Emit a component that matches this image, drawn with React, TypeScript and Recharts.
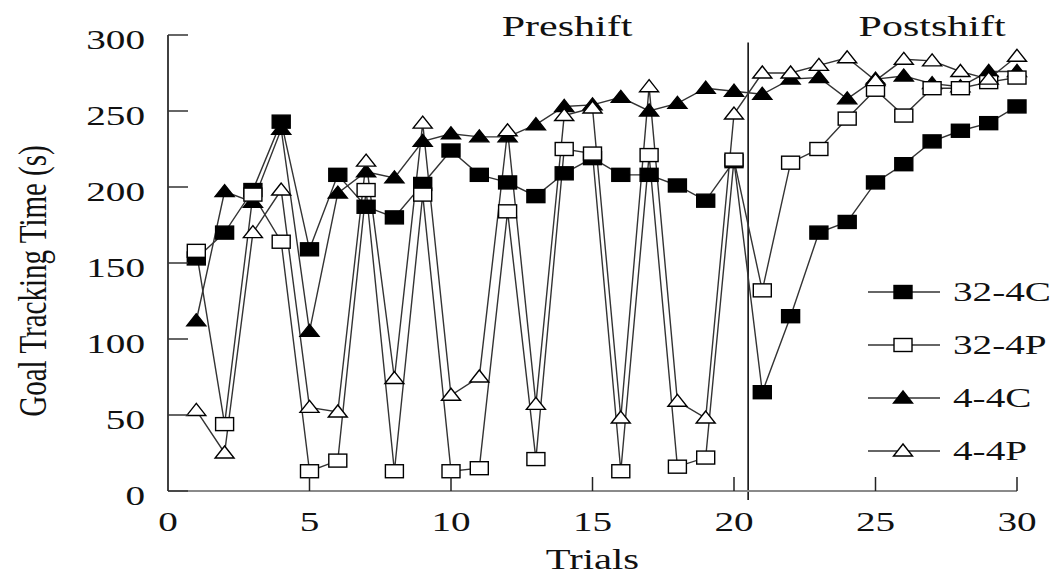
import React from "react";
import {
  LineChart,
  Line,
  XAxis,
  YAxis,
  Legend,
  Label,
  ReferenceLine,
  ReferenceDot,
} from "recharts";

// trial numbers and mean goal tracking time (s) per group
const trials = [
  1, 2, 3, 4, 5, 6, 7, 8, 9, 10, 11, 12, 13, 14, 15, 16, 17, 18, 19, 20, 21,
  22, 23, 24, 25, 26, 27, 28, 29, 30,
];
const g32_4C = [
  153, 170, 198, 243, 159, 208, 187, 180, 202, 224, 208, 203, 194, 209, 219,
  208, 208, 201, 191, 217, 65, 115, 170, 177, 203, 215, 230, 237, 242, 253,
];
const g32_4P = [
  158, 44, 195, 164, 13, 20, 198, 13, 195, 13, 15, 184, 21, 225, 222, 13, 221,
  16, 22, 218, 132, 216, 225, 245, 264, 247, 265, 265, 269, 272,
];
const g4_4C = [
  112, 197, 190, 238, 105, 196, 210, 206, 230, 235, 233, 233, 241, 253, 254,
  259, 250, 255, 265, 263, 261, 271, 272, 258, 271, 273, 268, 266, 276, 276,
];
const g4_4P = [
  53, 25, 170, 198, 55, 52, 217, 74, 242, 63, 75, 237, 57, 247, 252, 48, 266,
  59, 48, 248, 275, 275, 280, 285, 270, 284, 283, 276, 271, 286,
];

const xTicks = [0, 5, 10, 15, 20, 25, 30];
const yTicks = [0, 50, 100, 150, 200, 250, 300];

// shift happens between trial 20 and 21
const shiftAt = 20.5;
const phaseTitles = [
  { text: "Preshift", trial: 14.1 },
  { text: "Postshift", trial: 27 },
];

type Marker = "square" | "triangle";
type SeriesDef = { key: string; name: string; marker: Marker; filled: boolean };

const series: SeriesDef[] = [
  { key: "g32_4C", name: "32-4C", marker: "square", filled: true },
  { key: "g32_4P", name: "32-4P", marker: "square", filled: false },
  { key: "g4_4C", name: "4-4C", marker: "triangle", filled: true },
  { key: "g4_4P", name: "4-4P", marker: "triangle", filled: false },
];
// open markers are painted last so they sit on top
const drawOrder = ["g32_4C", "g4_4C", "g32_4P", "g4_4P"];

const data = trials.map((t, i) => ({
  trial: t,
  g32_4C: g32_4C[i],
  g32_4P: g32_4P[i],
  g4_4C: g4_4C[i],
  g4_4P: g4_4P[i],
}));

const FONT = '"Liberation Serif", "Times New Roman", serif';
const SX = 1.4; // the figure's lettering is wide, so text is stretched sideways
const INK = "#000";
const LINE = "#333";

function markerShape(marker: Marker, filled: boolean, cx: number, cy: number, key?: React.Key) {
  const fill = filled ? INK : "#fff";
  if (marker === "square") {
    return (
      <rect key={key} x={cx - 9} y={cy - 6.5} width={18} height={13} fill={fill} stroke={INK} strokeWidth={1.4} />
    );
  }
  const pts = `${cx},${cy - 7} ${cx - 9.5},${cy + 5} ${cx + 9.5},${cy + 5}`;
  return <polygon key={key} points={pts} fill={fill} stroke={INK} strokeWidth={1.4} strokeLinejoin="miter" />;
}

const makeDot = (s: SeriesDef) => (props: any) => {
  const { cx, cy, index } = props;
  if (cx == null || cy == null) return <g key={index} />;
  return markerShape(s.marker, s.filled, cx, cy, index);
};

const XTick = (props: any) => {
  const { x, y, payload } = props;
  return (
    <g>
      {payload.value !== 0 && <line x1={x} y1={y} x2={x} y2={y - 14} stroke="#222" strokeWidth={1.5} />}
      <text
        transform={`translate(${x},${y + 31}) scale(${SX},1)`}
        textAnchor="middle"
        dominantBaseline="central"
        fontFamily={FONT}
        fontSize={28}
        fill="#111"
      >
        {payload.value}
      </text>
    </g>
  );
};

const YTick = (props: any) => {
  const { x, y, payload } = props;
  return (
    <g>
      <line x1={x} y1={y} x2={x + 20} y2={y} stroke="#333" strokeWidth={1.5} />
      <text
        transform={`translate(${x - 23},${y + 5}) scale(${SX},1)`}
        textAnchor="end"
        dominantBaseline="central"
        fontFamily={FONT}
        fontSize={28}
        fill="#111"
      >
        {payload.value}
      </text>
    </g>
  );
};

const TrialsLabel = (props: any) => {
  const vb = props.viewBox || { x: 168, y: 491, width: 849, height: 85 };
  return (
    <text
      transform={`translate(${vb.x + vb.width / 2},${vb.y + 69}) scale(${SX},1)`}
      textAnchor="middle"
      dominantBaseline="central"
      fontFamily={FONT}
      fontSize={29}
      fill="#111"
    >
      Trials
    </text>
  );
};

const TimeLabel = (props: any) => {
  const vb = props.viewBox || { x: 0, y: 35, width: 168, height: 456 };
  return (
    <text
      transform={`translate(${vb.x + 33},${vb.y + vb.height / 2 + 18}) scale(${SX},1) rotate(-90)`}
      textAnchor="middle"
      dominantBaseline="central"
      fontFamily={FONT}
      fontSize={29}
      fill="#111"
    >
      Goal Tracking Time (s)
    </text>
  );
};

const titleShape = (text: string) => (props: any) => (
  <text
    transform={`translate(${props.cx},${props.cy + 1}) scale(${SX},1)`}
    textAnchor="middle"
    fontFamily={FONT}
    fontSize={30}
    fill="#111"
  >
    {text}
  </text>
);

const LegendBox = (props: any) => {
  const items = [...(props.payload || [])].sort(
    (a: any, b: any) =>
      series.findIndex((s) => s.key === a.dataKey) - series.findIndex((s) => s.key === b.dataKey)
  );
  return (
    <svg width={203} height={220} style={{ display: "block" }}>
      {items.map((it: any, i: number) => {
        const s = series.find((d) => d.key === it.dataKey)!;
        const cy = 30 + i * 53;
        return (
          <g key={s.key}>
            <line x1={8} y1={cy} x2={80} y2={cy} stroke={LINE} strokeWidth={1.4} />
            {markerShape(s.marker, s.filled, 43, cy)}
            <text
              transform={`translate(93,${cy}) scale(${SX},1)`}
              dominantBaseline="central"
              fontFamily={FONT}
              fontSize={28}
              fill="#111"
            >
              {s.name}
            </text>
          </g>
        );
      })}
    </svg>
  );
};

export default function App() {
  return (
    <div style={{ position: "absolute", left: 0, top: 0, background: "#fff" }}>
      <LineChart width={1063} height={576} data={data} margin={{ top: 35, right: 46, bottom: 0, left: 0 }}>
        <XAxis
          dataKey="trial"
          type="number"
          domain={[0, 30]}
          ticks={xTicks}
          interval={0}
          height={85}
          tickSize={0}
          tickMargin={0}
          tickLine={false}
          axisLine={{ stroke: "#8a8a8a", strokeWidth: 2 }}
          tick={<XTick />}
        >
          <Label content={<TrialsLabel />} />
        </XAxis>
        <YAxis
          type="number"
          domain={[0, 300]}
          ticks={yTicks}
          interval={0}
          width={168}
          tickSize={0}
          tickMargin={0}
          tickLine={false}
          axisLine={{ stroke: "#111", strokeWidth: 1.6 }}
          tick={<YTick />}
        >
          <Label content={<TimeLabel />} />
        </YAxis>
        <ReferenceLine
          segment={[
            { x: shiftAt, y: -6 },
            { x: shiftAt, y: 295 },
          ]}
          stroke="#111"
          strokeWidth={1.6}
          ifOverflow="visible"
        />
        {phaseTitles.map((p) => (
          <ReferenceDot
            key={p.text}
            x={p.trial}
            y={300}
            r={0}
            ifOverflow="visible"
            shape={titleShape(p.text)}
          />
        ))}
        {drawOrder.map((k) => {
          const s = series.find((d) => d.key === k)!;
          return (
            <Line
              key={s.key}
              dataKey={s.key}
              name={s.name}
              type="linear"
              stroke={LINE}
              strokeWidth={1.4}
              dot={makeDot(s)}
              activeDot={false}
              isAnimationActive={false}
            />
          );
        })}
        <Legend
          layout="vertical"
          align="center"
          verticalAlign="middle"
          content={<LegendBox />}
          wrapperStyle={{ position: "absolute", left: 860, top: 262, width: 203 }}
        />
      </LineChart>
    </div>
  );
}
